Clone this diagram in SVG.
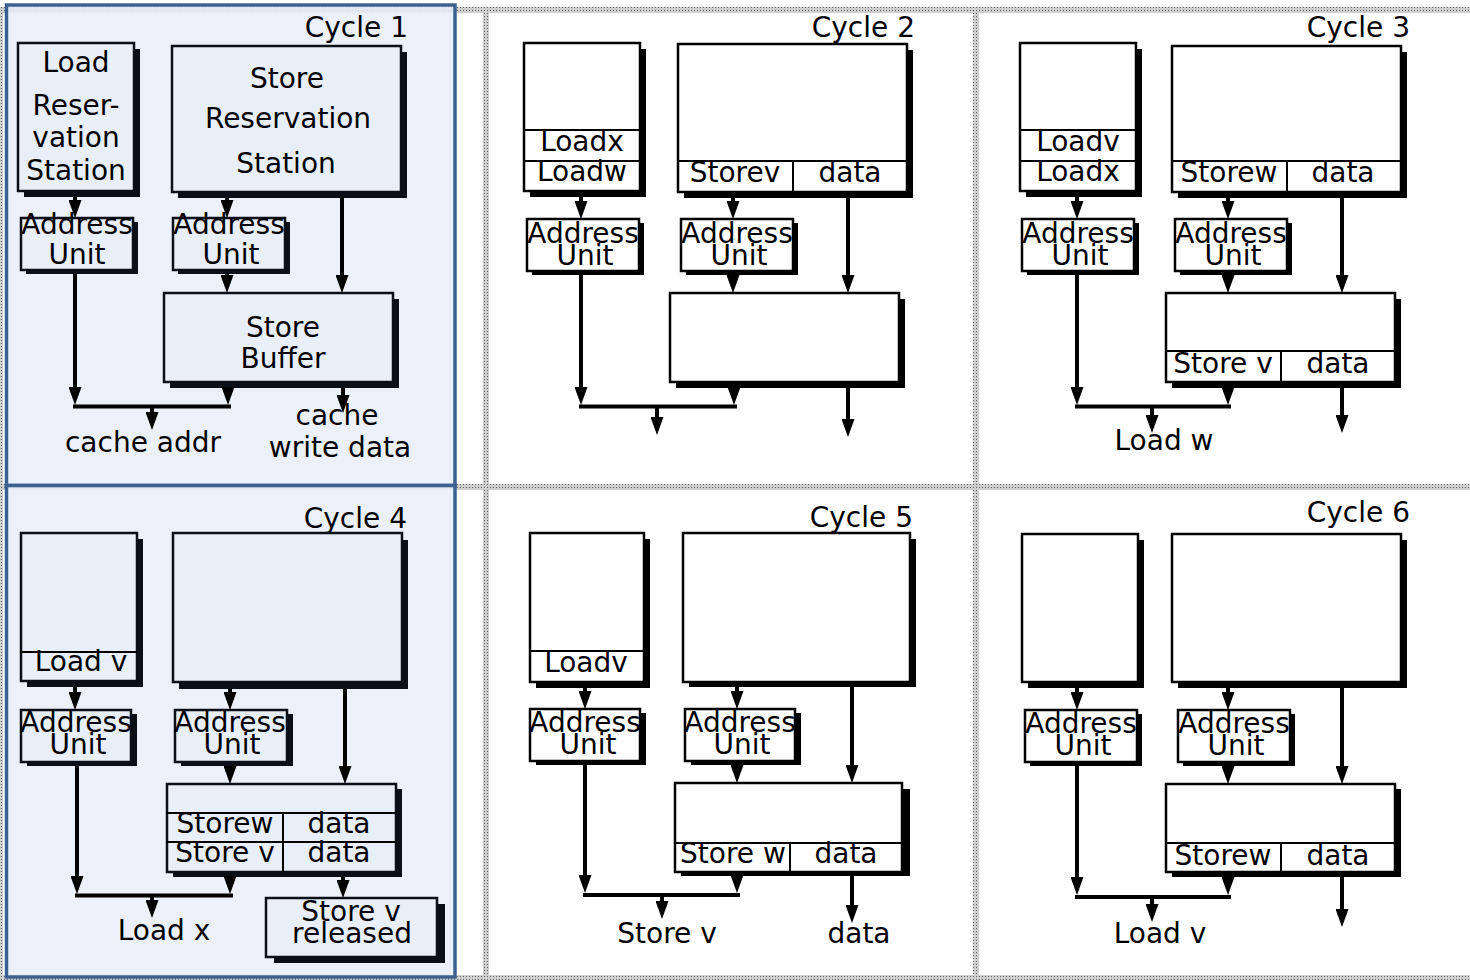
<svg xmlns="http://www.w3.org/2000/svg" width="1470" height="980" viewBox="0 0 1470 980">
<defs>
<pattern id="dots" width="3" height="3" patternUnits="userSpaceOnUse"><rect width="3" height="3" fill="#cfcfcf"/><rect x="1" y="1" width="1" height="1" fill="#606060"/></pattern>
<marker id="ah" markerUnits="userSpaceOnUse" viewBox="0 0 18 13" markerWidth="18" markerHeight="13" refX="11" refY="6.5" orient="auto"><path d="M0,0 L18,6.5 L0,13 Z" fill="#000"/></marker>
<style>
.box{fill:#fff;stroke:#000;stroke-width:2.5}
.bl .box{fill:#e9eff8;stroke:#0a0f18}
.sh{fill:#000}
.bl .sh{fill:#0a0f18}
.rl{stroke:#000;stroke-width:2;fill:none}
.ln{stroke:#000;stroke-width:4;fill:none}
.ar{marker-end:url(#ah)}
.t{font-family:"DejaVu Sans",sans-serif;font-size:28px;text-anchor:middle;fill:#000}
.ttl{font-family:"DejaVu Sans",sans-serif;font-size:28px;text-anchor:end;fill:#000}
.panel{fill:#e9eff8;fill-opacity:0.85;stroke:#3b6192;stroke-width:3.5}
</style>
</defs>
<rect width="1470" height="980" fill="#fff"/>
<g id="grid" fill="url(#dots)">
<rect x="0" y="7" width="1470" height="6"/>
<rect x="0" y="484" width="1470" height="6"/>
<rect x="0" y="975" width="1470" height="5"/>
<rect x="0" y="7" width="3" height="973"/>
<rect x="483" y="7" width="6" height="973"/>
<rect x="973" y="7" width="6" height="973"/>
</g>
<rect class="panel" x="6.5" y="5" width="448.5" height="480.5"/>
<rect class="panel" x="6.5" y="485.5" width="448.5" height="491.5"/>

<!-- Cycle 1 -->
<g id="cycle1" class="bl">
<text class="ttl" x="408" y="37">Cycle 1</text>
<g id="c1-lrs"><rect class="sh" x="24" y="49" width="116" height="148"/><rect class="box" x="18" y="43" width="116" height="148"/>
<text class="t" x="76" y="72">Load</text><text class="t" x="76" y="115">Reser-</text><text class="t" x="76" y="147">vation</text><text class="t" x="76" y="180">Station</text></g>
<g id="c1-srs"><rect class="sh" x="178" y="52" width="229" height="146"/><rect class="box" x="172" y="46" width="229" height="146"/>
<text class="t" x="287" y="88">Store</text><text class="t" x="288" y="128">Reservation</text><text class="t" x="286" y="173">Station</text></g>
<g id="c1-au1"><rect class="sh" x="26" y="222" width="112" height="52"/><rect class="box" x="21" y="218" width="112" height="52"/>
<text class="t" x="77" y="234">Address</text><text class="t" x="77" y="264">Unit</text></g>
<g id="c1-au2"><rect class="sh" x="178" y="222" width="112" height="52"/><rect class="box" x="173" y="218" width="112" height="52"/>
<text class="t" x="229" y="234">Address</text><text class="t" x="231" y="264">Unit</text></g>
<g id="c1-sb"><rect class="sh" x="170" y="299" width="229" height="89"/><rect class="box" x="164" y="293" width="229" height="89"/>
<text class="t" x="283" y="337">Store</text><text class="t" x="283" y="368">Buffer</text></g>
<g id="c1-conn">
<path class="ln ar" d="M75,197 V211"/><path class="ln ar" d="M227,198 V211"/><path class="ln ar" d="M342,198 V286"/>
<path class="ln ar" d="M227,274 V286"/><path class="ln ar" d="M75,274 V398"/><path class="ln ar" d="M228,388 V398"/>
<path class="ln" d="M73,406.5 H231"/><path class="ln ar" d="M152,408 V423"/><path class="ln ar" d="M343,388 V406"/>
</g>
<text class="t" x="143" y="452">cache addr</text><text class="t" x="337" y="425">cache</text><text class="t" x="340" y="457">write data</text>
</g>

<!-- Cycle 2 -->
<g id="cycle2" transform="translate(506,0)">
<text class="ttl" x="409" y="37">Cycle 2</text>
<g id="c2-lrs"><rect class="sh" x="24" y="49" width="116" height="148"/><rect class="box" x="18" y="43" width="116" height="148"/>
<path class="rl" d="M18,130 H134 M18,161 H134"/><text class="t" x="76" y="151">Loadx</text><text class="t" x="76" y="181">Loadw</text></g>
<g id="c2-srs"><rect class="sh" x="178" y="50" width="229" height="148"/><rect class="box" x="172" y="44" width="229" height="148"/>
<path class="rl" d="M172,161 H401 M287,161 V192"/><text class="t" x="229" y="182">Storev</text><text class="t" x="344" y="182">data</text></g>
<g id="c2-au1"><rect class="sh" x="26" y="223" width="112" height="52"/><rect class="box" x="21" y="219" width="112" height="52"/>
<text class="t" x="77" y="243">Address</text><text class="t" x="79" y="265">Unit</text></g>
<g id="c2-au2"><rect class="sh" x="180" y="223" width="112" height="52"/><rect class="box" x="175" y="219" width="112" height="52"/>
<text class="t" x="231" y="243">Address</text><text class="t" x="233" y="265">Unit</text></g>
<g id="c2-sb"><rect class="sh" x="170" y="299" width="229" height="89"/><rect class="box" x="164" y="293" width="229" height="89"/></g>
<g id="c2-conn">
<path class="ln ar" d="M75,197 V212"/><path class="ln ar" d="M227,198 V212"/><path class="ln ar" d="M342,198 V286"/>
<path class="ln ar" d="M227,275 V286"/><path class="ln ar" d="M75,275 V398"/><path class="ln ar" d="M228,388 V398"/>
<path class="ln" d="M73,406.5 H231"/><path class="ln ar" d="M151,408 V428"/><path class="ln ar" d="M342,388 V430"/>
</g>
</g>

<!-- Cycle 3 -->
<g id="cycle3" transform="translate(1002,0)">
<text class="ttl" x="408" y="37">Cycle 3</text>
<g id="c3-lrs"><rect class="sh" x="24" y="49" width="116" height="148"/><rect class="box" x="18" y="43" width="116" height="148"/>
<path class="rl" d="M18,130 H134 M18,161 H134"/><text class="t" x="76" y="151">Loadv</text><text class="t" x="76" y="181">Loadx</text></g>
<g id="c3-srs"><rect class="sh" x="176" y="52" width="229" height="146"/><rect class="box" x="170" y="46" width="229" height="146"/>
<path class="rl" d="M170,161 H399 M285,161 V192"/><text class="t" x="227" y="182">Storew</text><text class="t" x="341" y="182">data</text></g>
<g id="c3-au1"><rect class="sh" x="25" y="223" width="112" height="52"/><rect class="box" x="20" y="219" width="112" height="52"/>
<text class="t" x="76" y="243">Address</text><text class="t" x="78" y="265">Unit</text></g>
<g id="c3-au2"><rect class="sh" x="178" y="223" width="112" height="52"/><rect class="box" x="173" y="219" width="112" height="52"/>
<text class="t" x="229" y="243">Address</text><text class="t" x="231" y="265">Unit</text></g>
<g id="c3-sb"><rect class="sh" x="170" y="299" width="229" height="89"/><rect class="box" x="164" y="293" width="229" height="89"/>
<path class="rl" d="M164,351 H393 M279,351 V382"/><text class="t" x="221" y="373">Store v</text><text class="t" x="336" y="373">data</text></g>
<g id="c3-conn">
<path class="ln ar" d="M75,197 V212"/><path class="ln ar" d="M226,198 V212"/><path class="ln ar" d="M340,198 V286"/>
<path class="ln ar" d="M226,275 V286"/><path class="ln ar" d="M75,275 V398"/><path class="ln ar" d="M226,388 V398"/>
<path class="ln" d="M73,406.5 H229"/><path class="ln ar" d="M150,408 V426"/><path class="ln ar" d="M340,388 V426"/>
</g>
<text class="t" x="162" y="450">Load w</text>
</g>

<!-- Cycle 4 -->
<g id="cycle4" class="bl" transform="translate(0,491)">
<text class="ttl" x="407" y="37">Cycle 4</text>
<g id="c4-lrs"><rect class="sh" x="27" y="48" width="116" height="148"/><rect class="box" x="21" y="42" width="116" height="148"/>
<path class="rl" d="M21,161 H137"/><text class="t" x="81" y="180">Load v</text></g>
<g id="c4-srs"><rect class="sh" x="179" y="49" width="229" height="149"/><rect class="box" x="173" y="42" width="229" height="149"/></g>
<g id="c4-au1"><rect class="sh" x="27" y="223" width="110" height="52"/><rect class="box" x="21" y="219" width="110" height="52"/>
<text class="t" x="76" y="241">Address</text><text class="t" x="78" y="263">Unit</text></g>
<g id="c4-au2"><rect class="sh" x="181" y="223" width="112" height="52"/><rect class="box" x="175" y="219" width="112" height="52"/>
<text class="t" x="230" y="241">Address</text><text class="t" x="232" y="263">Unit</text></g>
<g id="c4-sb"><rect class="sh" x="173" y="298" width="229" height="88"/><rect class="box" x="167" y="293" width="229" height="88"/>
<path class="rl" d="M167,322 H396 M167,351 H396 M283,322 V381"/>
<text class="t" x="225" y="342">Storew</text><text class="t" x="339" y="342">data</text>
<text class="t" x="225" y="371">Store v</text><text class="t" x="339" y="371">data</text></g>
<g id="c4-rel"><rect class="sh" x="274" y="413" width="171" height="59"/><rect class="box" x="266" y="407" width="171" height="59"/>
<text class="t" x="351" y="430">Store v</text><text class="t" x="352" y="452">released</text></g>
<g id="c4-conn">
<path class="ln ar" d="M75,196 V212"/><path class="ln ar" d="M230,198 V212"/><path class="ln ar" d="M345,198 V286"/>
<path class="ln ar" d="M230,275 V286"/><path class="ln ar" d="M77,275 V396"/><path class="ln ar" d="M230,386 V396"/>
<path class="ln" d="M75,404.5 H233"/><path class="ln ar" d="M152,406 V420"/><path class="ln ar" d="M343,386 V400"/>
</g>
<text class="t" x="164" y="449">Load x</text>
</g>

<!-- Cycle 5 -->
<g id="cycle5" transform="translate(511,491)">
<text class="ttl" x="402" y="36">Cycle 5</text>
<g id="c5-lrs"><rect class="sh" x="25" y="48" width="114" height="149"/><rect class="box" x="19" y="42" width="114" height="149"/>
<path class="rl" d="M19,160 H133"/><text class="t" x="75" y="181">Loadv</text></g>
<g id="c5-srs"><rect class="sh" x="178" y="48" width="227" height="148"/><rect class="box" x="172" y="42" width="227" height="149"/></g>
<g id="c5-au1"><rect class="sh" x="25" y="222" width="110" height="52"/><rect class="box" x="19" y="218" width="110" height="52"/>
<text class="t" x="74" y="241">Address</text><text class="t" x="77" y="263">Unit</text></g>
<g id="c5-au2"><rect class="sh" x="180" y="222" width="110" height="52"/><rect class="box" x="174" y="218" width="110" height="52"/>
<text class="t" x="229" y="241">Address</text><text class="t" x="231" y="263">Unit</text></g>
<g id="c5-sb"><rect class="sh" x="170" y="298" width="229" height="87"/><rect class="box" x="164" y="292" width="227" height="89"/>
<path class="rl" d="M164,352 H391 M279,352 V381"/><text class="t" x="222" y="372">Store w</text><text class="t" x="335" y="372">data</text></g>
<g id="c5-conn">
<path class="ln ar" d="M74,196 V211"/><path class="ln ar" d="M226,196 V211"/><path class="ln ar" d="M341,196 V285"/>
<path class="ln ar" d="M226,274 V285"/><path class="ln ar" d="M74,274 V395"/><path class="ln ar" d="M226,385 V395"/>
<path class="ln" d="M72,404 H229"/><path class="ln ar" d="M151,405 V421"/><path class="ln ar" d="M341,385 V425"/>
</g>
<text class="t" x="156" y="452">Store v</text><text class="t" x="348" y="452">data</text>
</g>

<!-- Cycle 6 -->
<g id="cycle6" transform="translate(1002,491)">
<text class="ttl" x="408" y="31">Cycle 6</text>
<g id="c6-lrs"><rect class="sh" x="26" y="49" width="116" height="148"/><rect class="box" x="20" y="43" width="116" height="148"/></g>
<g id="c6-srs"><rect class="sh" x="176" y="49" width="229" height="148"/><rect class="box" x="170" y="43" width="229" height="148"/></g>
<g id="c6-au1"><rect class="sh" x="28" y="223" width="112" height="52"/><rect class="box" x="23" y="219" width="112" height="52"/>
<text class="t" x="79" y="242">Address</text><text class="t" x="81" y="264">Unit</text></g>
<g id="c6-au2"><rect class="sh" x="181" y="223" width="112" height="52"/><rect class="box" x="176" y="219" width="112" height="52"/>
<text class="t" x="232" y="242">Address</text><text class="t" x="234" y="264">Unit</text></g>
<g id="c6-sb"><rect class="sh" x="170" y="298" width="229" height="88"/><rect class="box" x="164" y="293" width="229" height="88"/>
<path class="rl" d="M164,352 H393 M279,352 V381"/><text class="t" x="221" y="374">Storew</text><text class="t" x="336" y="374">data</text></g>
<g id="c6-conn">
<path class="ln ar" d="M75,197 V212"/><path class="ln ar" d="M226,197 V212"/><path class="ln ar" d="M340,197 V286"/>
<path class="ln ar" d="M226,275 V286"/><path class="ln ar" d="M75,275 V397"/><path class="ln ar" d="M226,386 V397"/>
<path class="ln" d="M73,406 H229"/><path class="ln ar" d="M150,407 V424"/><path class="ln ar" d="M340,386 V429"/>
</g>
<text class="t" x="158" y="452">Load v</text>
</g>
</svg>
